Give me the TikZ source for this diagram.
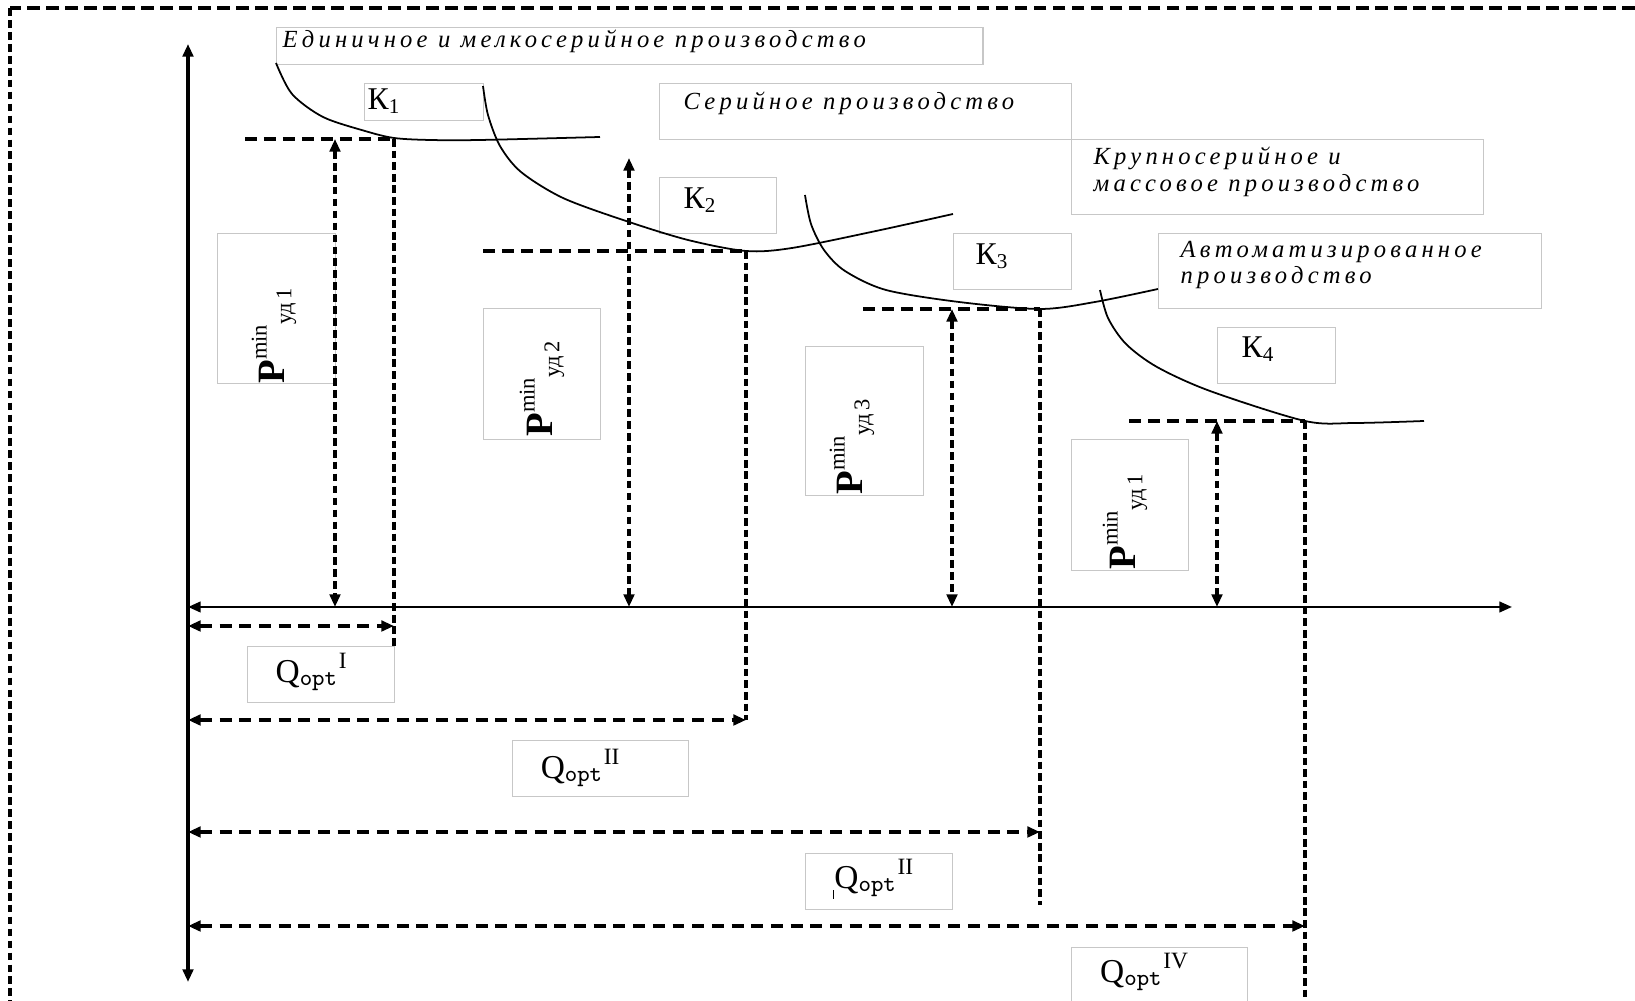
\documentclass[tikz,border=0pt]{standalone}
\usepackage{fontspec}
\setmainfont{Liberation Serif}
\newfontfamily\capfam[LetterSpace=17]{Liberation Serif}
\newcommand\smallidx[1]{{\fontsize{6.4}{7}\selectfont #1}}
\usetikzlibrary{arrows.meta}
\tikzset{
  tbox/.style={draw=black!22, line width=0.35pt, fill=white, inner sep=0pt, anchor=north west},
  captxt/.style={font=\capfam\itshape\fontsize{7}{7.6}\selectfont, anchor=west, inner sep=0pt, align=left},
  ktxt/.style={font=\fontsize{9}{10}\selectfont, anchor=west, inner sep=0pt},
  ptxt/.style={rotate=90, inner sep=0pt, font=\fontsize{11}{13}\selectfont},
  qtxt/.style={inner sep=0pt, font=\fontsize{9.5}{11}\selectfont},
  lvl/.style={dash pattern=on 3.4pt off 2pt, line width=0.9pt},
  drop/.style={dash pattern=on 2.2pt off 1.1pt, line width=1pt},
  parr/.style={<->, dash pattern=on 2.2pt off 1.2pt, line width=1.15pt},
  qarr/.style={<->, dash pattern=on 3.4pt off 2.2pt, line width=0.9pt},
  curve/.style={line width=0.5pt}
}
\begin{document}
\begin{tikzpicture}[x=0.01cm, y=-0.01cm, >={Triangle[length=3.6pt,width=3pt]}]
  \useasboundingbox (0,0) rectangle (1635,1001);
  \draw[dash pattern=on 3.6pt off 1.8pt, line width=0.9pt] (1635,8) -- (10,8);
  \draw[dash pattern=on 2.2pt off 1.2pt, line width=1pt] (10,8) -- (10,1001);

  % text boxes
  \node[tbox, minimum width=7.06cm, minimum height=0.37cm] (capabox) at (276,27) {};
  \node[tbox, minimum width=1.19cm, minimum height=0.37cm] (k1box) at (364,83) {};
  \node[tbox, minimum width=4.12cm, minimum height=0.56cm] (capbbox) at (659,83) {};
  \node[tbox, minimum width=4.12cm, minimum height=0.75cm] (capcbox) at (1071,139) {};
  \node[tbox, minimum width=1.17cm, minimum height=0.56cm] (k2box) at (659,177) {};
  \node[tbox, minimum width=1.18cm, minimum height=0.56cm] (k3box) at (953,233) {};
  \node[tbox, minimum width=3.83cm, minimum height=0.75cm] (capdbox) at (1158,233) {};
  \node[tbox, minimum width=1.18cm, minimum height=0.56cm] (k4box) at (1217,327) {};
  \node[tbox, minimum width=1.18cm, minimum height=1.50cm] (p1box) at (217,233) {};
  \node[tbox, minimum width=1.17cm, minimum height=1.31cm] (p2box) at (483,308) {};
  \node[tbox, minimum width=1.18cm, minimum height=1.49cm] (p3box) at (805,346) {};
  \node[tbox, minimum width=1.17cm, minimum height=1.31cm] (p4box) at (1071,439) {};
  \node[tbox, minimum width=1.47cm, minimum height=0.56cm] (q1box) at (247,646) {};
  \node[tbox, minimum width=1.76cm, minimum height=0.56cm] (q2box) at (512,740) {};
  \node[tbox, minimum width=1.47cm, minimum height=0.56cm] (q3box) at (805,853) {};
  \node[tbox, minimum width=1.76cm, minimum height=0.60cm] (q4box) at (1071,947) {};

  \node[captxt] (capa) at (282,41) {Единичное и мелкосерийное производство};
  \node[captxt] (capb) at (683,103) {Серийное производство};
  \node[captxt] (capc) at (1093,172) {Крупносерийное и\\массовое производство};
  \node[captxt] (capd) at (1180,265) {Автоматизированное\\производство};
  \node[ktxt] (k1) at (367,101) {К\textsubscript{1}};
  \node[ktxt] (k2) at (683,200) {К\textsubscript{2}};
  \node[ktxt] (k3) at (975,256) {К\textsubscript{3}};
  \node[ktxt] (k4) at (1241,349) {К\textsubscript{4}};
  \node[ptxt] (p1) at (274,336) {\textbf{P}\raisebox{5pt}{\smallidx{min}}\raisebox{-2pt}{\smallidx{уд\,1}}};
  \node[ptxt] (p2) at (542,389) {\textbf{P}\raisebox{5pt}{\smallidx{min}}\raisebox{-2pt}{\smallidx{уд\,2}}};
  \node[ptxt] (p3) at (852,447) {\textbf{P}\raisebox{5pt}{\smallidx{min}}\raisebox{-2pt}{\smallidx{уд\,3}}};
  \node[ptxt] (p4) at (1125,522) {\textbf{P}\raisebox{5pt}{\smallidx{min}}\raisebox{-2pt}{\smallidx{уд\,1}}};
  \node[qtxt] (q1) at (312,672) {Q\textsubscript{\ttfamily opt}\textsuperscript{I}};
  \node[qtxt] (q2) at (581,768) {Q\textsubscript{\ttfamily opt}\textsuperscript{II}};
  \node[qtxt] (q3) at (874,879) {\rule[-3pt]{0.4pt}{2.5pt}Q\textsubscript{\ttfamily opt}\textsuperscript{II}};
  \node[qtxt] (q4) at (1145,972) {Q\textsubscript{\ttfamily opt}\textsuperscript{IV}};

  % axes
  \coordinate (o) at (188,607);
  \coordinate (yt) at (188,44);
  \coordinate (yb) at (188,982);
  \coordinate (xr) at (1512,607);
  \draw[<->, line width=1.1pt] (yt) -- (yb);
  \draw[<->, line width=0.7pt] (o) -- (xr);

  % cost curves
  \draw[curve] plot[smooth] coordinates {(276,63) (292,94) (323,117) (365,131) (394,138) (430,140) (480,140) (600,137)};
  \draw[curve] plot[smooth] coordinates {(483,86) (488,115) (500,146) (521,172) (563,198) (626,221) (688,240) (746,251) (792,248) (876,231) (953,214)};
  \draw[curve] plot[smooth] coordinates {(805,195) (811,224) (824,250) (845,271) (886,290) (959,302) (1040,309) (1095,302) (1158,289)};
  \draw[curve] plot[smooth] coordinates {(1100,290) (1108,318) (1126,344) (1157,367) (1210,391) (1305,421) (1355,423) (1424,421)};

  \coordinate (m1) at (394,139);
  \coordinate (m2) at (746,251);
  \coordinate (m3) at (1040,309);
  \coordinate (m4) at (1305,421);

  \draw[lvl] (245,139) -- (m1);
  \draw[lvl] (483,251) -- (m2);
  \draw[lvl] (863,309) -- (m3);
  \draw[lvl] (1129,421) -- (m4);

  \coordinate (a1) at (335,139);
  \coordinate (a2) at (629,158);
  \coordinate (a3) at (952,309);
  \coordinate (a4) at (1217,421);
  \draw[parr] (a1) -- (a1 |- o);
  \draw[parr] (a2) -- (a2 |- o);
  \draw[parr] (a3) -- (a3 |- o);
  \draw[parr] (a4) -- (a4 |- o);

  \draw[drop] (m1) -- (394,648);
  \draw[drop] (m2) -- (746,720);
  \draw[drop] (m3) -- (1040,905);
  \draw[drop] (m4) -- (1305,1001);

  \coordinate (e1) at (394,626);
  \coordinate (e2) at (746,720);
  \coordinate (e3) at (1040,832);
  \coordinate (e4) at (1305,926);
  \draw[qarr] (o |- e1) -- (e1);
  \draw[qarr] (o |- e2) -- (e2);
  \draw[qarr] (o |- e3) -- (e3);
  \draw[qarr] (o |- e4) -- (e4);
\end{tikzpicture}
\end{document}
